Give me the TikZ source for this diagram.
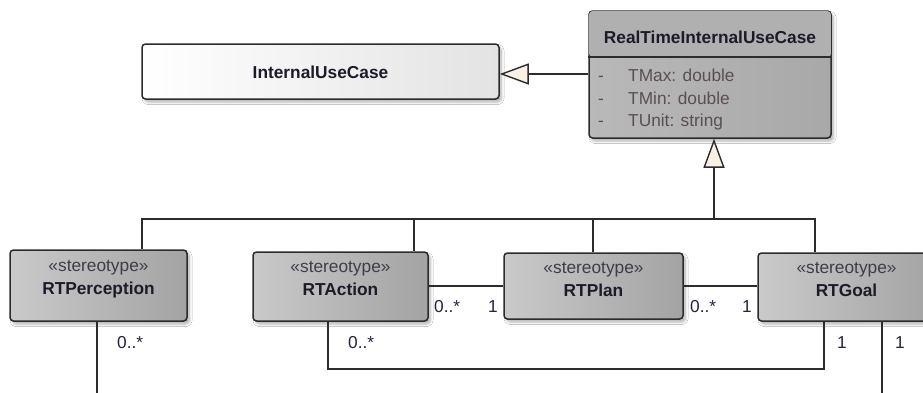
\documentclass[tikz,border=0pt]{standalone}
\usepackage{fontspec}
\setmainfont{Liberation Sans}
\usetikzlibrary{arrows.meta,calc,shadows.blur}

\definecolor{inkline}{HTML}{2C2C2C}
\definecolor{txtdark}{HTML}{1C1C28}
\definecolor{txtattr}{HTML}{5A5050}
\definecolor{txtmult}{HTML}{2A2040}
\definecolor{tipfill}{HTML}{F8F0E2}

\tikzset{
  boxshadow/.style={blur shadow={shadow xshift=2.5pt, shadow yshift=-3pt,
      shadow blur radius=2.5pt, shadow blur steps=6, shadow opacity=30}},
  classbox/.style={draw=inkline, line width=1.5pt, rounded corners=3.5pt,
      inner sep=0pt, boxshadow},
  plainbox/.style={classbox, left color=white, right color=gray!22},
  greybox/.style={classbox, left color=gray!42, right color=gray!72},
  rtbox/.style={classbox, left color=gray!55, right color=gray!68},
  titletext/.style={font=\fontsize{17.3}{20}\selectfont\bfseries, text=txtdark, inner sep=0pt, anchor=base},
  stereotext/.style={font=\fontsize{17.3}{20}\selectfont, text=txtdark!85, inner sep=0pt, anchor=base},
  attrtext/.style={font=\fontsize{17.3}{20}\selectfont, text=txtattr, inner sep=0pt, anchor=base west},
  multtext/.style={font=\fontsize{17.3}{20}\selectfont, text=txtmult, inner sep=0pt, anchor=base west},
  link/.style={draw=inkline, line width=1.5pt},
  gen/.style={link, -{Triangle[length=29pt, width=21pt, fill=tipfill, line width=1.4pt]}},
}

\begin{document}
\begin{tikzpicture}[x=1pt, y=-1pt]
\clip (0,0) rectangle (923,392);
\fill[white] (0,0) rectangle (923,392);

% --- classes -------------------------------------------------------------
\node[plainbox, minimum width=357pt, minimum height=55pt] (iuc) at (320.5,71.5) {};
\node[titletext] (iucT) at (320.5,78) {InternalUseCase};

\node[rtbox, minimum width=242pt, minimum height=127pt] (rt) at (710,74.5) {};
\fill[gray!62, rounded corners=3.5pt] ([shift={(0.8pt,-0.8pt)}]rt.north west) rectangle ([shift={(-0.8pt,0pt)}]rt.east |- 0,57);
\draw[link] (rt.west |- 0,57) -- (rt.east |- 0,57);
\node[titletext] (rtT) at (710,43.3) {RealTimeInternalUseCase};
\node[attrtext] (rtA1d) at (598,81.7) {-};
\node[attrtext] (rtA1) at (628,81.7) {TMax: double};
\node[attrtext] (rtA2d) at (598,104.3) {-};
\node[attrtext] (rtA2) at (628,104.3) {TMin: double};
\node[attrtext] (rtA3d) at (598,126.7) {-};
\node[attrtext] (rtA3) at (628,126.7) {TUnit: string};

\node[greybox, minimum width=177pt, minimum height=71pt] (perc) at (98.5,285.5) {};
\node[greybox, minimum width=175pt, minimum height=69pt] (act)  at (340.5,286.5) {};
\node[greybox, minimum width=179pt, minimum height=66pt] (plan) at (593.5,286) {};
\node[greybox, minimum width=177pt, minimum height=68pt] (goal) at (846.5,287) {};

\node[stereotext] (percS) at ($(perc.north)+(0,22)$) {«stereotype»};
\node[titletext]  (percN) at ($(perc.north)+(0,45)$) {RTPerception};
\node[stereotext] (actS)  at ($(act.north)+(0,21)$)  {«stereotype»};
\node[titletext]  (actN)  at ($(act.north)+(0,44.5)$) {RTAction};
\node[stereotext] (planS) at ($(plan.north)+(0,21)$) {«stereotype»};
\node[titletext]  (planN) at ($(plan.north)+(0,44)$) {RTPlan};
\node[stereotext] (goalS) at ($(goal.north)+(0,21)$) {«stereotype»};
\node[titletext]  (goalN) at ($(goal.north)+(0,44)$) {RTGoal};

% --- generalizations -----------------------------------------------------
\draw[gen] ([yshift=0.5pt]rt.west) -- ([yshift=0.5pt]rt.west -| iuc.east);

\coordinate (bus) at (714,219);
\draw[gen] (bus) -- (bus |- rt.south);
\draw[link] (perc.north -| 142,0) -- (142,219) -- (815,219) -- (goal.north -| 815,0);
\draw[link] (414,219) -- (act.north -| 414,0);
\draw[link] (593,219) -- (plan.north -| 593,0);

% --- associations --------------------------------------------------------
\draw[link] (act.east |- plan.west) -- (plan.west);
\draw[link] (plan.east) -- (plan.east -| goal.west);
\draw[link] ([xshift=-12.5pt]act.south) -- ++(0,47) -| ([xshift=-22.5pt]goal.south);
\draw[link] ([xshift=-1.5pt]perc.south) -- ++(0,80);
\draw[link] ([xshift=35.5pt]goal.south) -- ++(0,80);

% --- multiplicities ------------------------------------------------------
\node[multtext] (m1) at (117,348) {0..*};
\node[multtext] (m2) at (348,348) {0..*};
\node[multtext] (m3) at (434,312) {0..*};
\node[multtext] (m4) at (488,312) {1};
\node[multtext] (m5) at (690,312) {0..*};
\node[multtext] (m6) at (742,312) {1};
\node[multtext] (m7) at (837,348) {1};
\node[multtext] (m8) at (895,348) {1};
\end{tikzpicture}
\end{document}
